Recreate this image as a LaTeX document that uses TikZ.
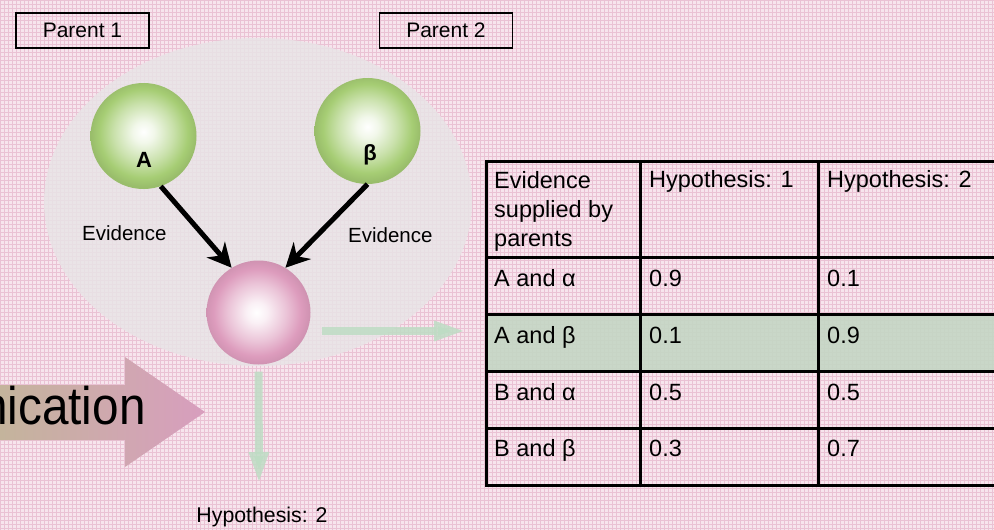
\documentclass[tikz,border=0pt]{standalone}
\usepackage{fontspec}
\setmainfont{Liberation Sans}
\usetikzlibrary{arrows.meta,shapes.geometric}
\definecolor{bgpink}{RGB}{247,229,237}
\definecolor{gridpink}{RGB}{234,194,212}
\definecolor{ballgreen}{RGB}{166,205,116}
\definecolor{ballpink}{RGB}{221,156,189}
\definecolor{lightgreen}{RGB}{190,220,196}
\definecolor{rowgreen}{RGB}{196,214,196}
\definecolor{arrowtan}{RGB}{196,180,156}
\definecolor{arrowpink}{RGB}{216,158,190}
\definecolor{blobgray}{RGB}{232,228,230}
\pgfdeclareradialshading{greenball}{\pgfpoint{0bp}{2bp}}{color(0bp)=(white); color(5bp)=(white!85!ballgreen); color(14bp)=(white!40!ballgreen); color(21bp)=(ballgreen); color(25bp)=(ballgreen!92!black); color(50bp)=(ballgreen!92!black)}
\pgfdeclareradialshading{pinkball}{\pgfpoint{-1bp}{0bp}}{color(0bp)=(white); color(5bp)=(white!85!ballpink); color(14bp)=(white!40!ballpink); color(21bp)=(ballpink); color(25bp)=(ballpink!94!black); color(50bp)=(ballpink!94!black)}
\tikzset{
  parentbox/.style={draw, line width=1.5pt, minimum width=133pt, minimum height=35pt, inner sep=0pt, font=\fontsize{21}{24}\selectfont},
  gball/.style={circle, minimum size=106pt, inner sep=0pt, shading=greenball},
  pball/.style={circle, minimum size=104pt, inner sep=0pt, shading=pinkball},
  balllabel/.style={inner sep=0pt, font=\bfseries\fontsize{22}{24}\selectfont},
  evlabel/.style={inner sep=0pt, anchor=base west, font=\fontsize{20.5}{24}\selectfont},
  blackarrow/.style={line width=5pt, -{Stealth[length=24pt,width=24pt]}},
  greenarrow/.style={line width=8pt, draw=lightgreen, draw opacity=0.85, -{Triangle[length=32pt,width=18pt]}},
  cellbox/.style={draw, line width=3pt, anchor=north west, inner sep=0pt},
  celltext/.style={inner sep=0pt, anchor=base west, font=\fontsize{23.5}{29}\selectfont},
}
\begin{document}
\begin{tikzpicture}[x=1pt,y=-1pt]
\useasboundingbox (0,0) rectangle (994,530);
\clip (0,0) rectangle (994,530);
% background
\fill[bgpink] (0,0) rectangle (994,530);
\draw[gridpink, line width=0.6pt] (0,0) grid[step=4pt] (994,530);
% grey blob
\fill[blobgray, opacity=0.85] (258,202) ellipse[x radius=214, y radius=164];
% big arrow
\shade[left color=arrowtan, right color=arrowpink]
  (0,385) -- (125,385) -- (125,357) -- (205,412) -- (125,467) -- (125,440) -- (0,440) -- cycle;
\node[inner sep=0pt, anchor=base west, xscale=0.9, font=\fontsize{53}{60}\selectfont] (comm) at (-19,424) {nication};
% parent boxes
\node[parentbox] (p1) at (82.5,30.5) {Parent 1};
\node[parentbox] (p2) at (446,30.5) {Parent 2};
% balls
\node[gball] (A) at (143.5,136) {};
\node[gball] (B) at (367.5,131) {};
\node[pball] (P) at (258.5,312.5) {};
\node[balllabel] (Alab) at (144,160) {A};
\node[balllabel] (Blab) at (370,155) {β};
% evidence labels
\node[evlabel] (ev1) at (82,240.5) {Evidence};
\node[evlabel] (ev2) at (348,242.7) {Evidence};
% black arrows
\draw[blackarrow] (A.-71) -- (P.121);
\draw[blackarrow] (B.-90) -- (P.59);
% green arrows
\coordinate (gr) at (466,331);
\coordinate (gd) at (259,484);
\draw[greenarrow] (322,331) -- (gr);
\draw[greenarrow, shorten <=7pt] (P.south) -- (gd);
\node[inner sep=0pt, anchor=base, font=\fontsize{21.3}{24}\selectfont] (hyp) at (262,522.7) {Hypothesis: 2};
% table
\fill[rowgreen, opacity=0.9] (485,312.5) rectangle (1010,369.5);
\node[cellbox, minimum width=154pt, minimum height=96pt] (c11) at (485,160) {};
\node[cellbox, minimum width=178pt, minimum height=96pt] (c12) at (639,160) {};
\node[cellbox, minimum width=200pt, minimum height=96pt] (c13) at (817,160) {};
\node[cellbox, minimum width=154pt, minimum height=56.5pt] (c21) at (485,256) {};
\node[cellbox, minimum width=178pt, minimum height=56.5pt] (c22) at (639,256) {};
\node[cellbox, minimum width=200pt, minimum height=56.5pt] (c23) at (817,256) {};
\node[cellbox, minimum width=154pt, minimum height=57pt] (c31) at (485,312.5) {};
\node[cellbox, minimum width=178pt, minimum height=57pt] (c32) at (639,312.5) {};
\node[cellbox, minimum width=200pt, minimum height=57pt] (c33) at (817,312.5) {};
\node[cellbox, minimum width=154pt, minimum height=57.5pt] (c41) at (485,369.5) {};
\node[cellbox, minimum width=178pt, minimum height=57.5pt] (c42) at (639,369.5) {};
\node[cellbox, minimum width=200pt, minimum height=57.5pt] (c43) at (817,369.5) {};
\node[cellbox, minimum width=154pt, minimum height=57pt] (c51) at (485,427) {};
\node[cellbox, minimum width=178pt, minimum height=57pt] (c52) at (639,427) {};
\node[cellbox, minimum width=200pt, minimum height=57pt] (c53) at (817,427) {};
% table text
\node[celltext, align=left, anchor=north west] (t11) at (494,171.5) {Evidence\\supplied by\\parents};
\node[celltext] (t12) at (649,187) {Hypothesis: 1};
\node[celltext] (t13) at (827,187) {Hypothesis: 2};
\node[celltext] (t21) at (494,286.7) {A and α};
\node[celltext] (t22) at (649,286.7) {0.9};
\node[celltext] (t23) at (827,286.7) {0.1};
\node[celltext] (t31) at (494,343.3) {A and β};
\node[celltext] (t32) at (649,343.3) {0.1};
\node[celltext] (t33) at (827,343.3) {0.9};
\node[celltext] (t41) at (494,400) {B and α};
\node[celltext] (t42) at (649,400) {0.5};
\node[celltext] (t43) at (827,400) {0.5};
\node[celltext] (t51) at (494,456.7) {B and β};
\node[celltext] (t52) at (649,456.7) {0.3};
\node[celltext] (t53) at (827,456.7) {0.7};
\end{tikzpicture}
\end{document}
